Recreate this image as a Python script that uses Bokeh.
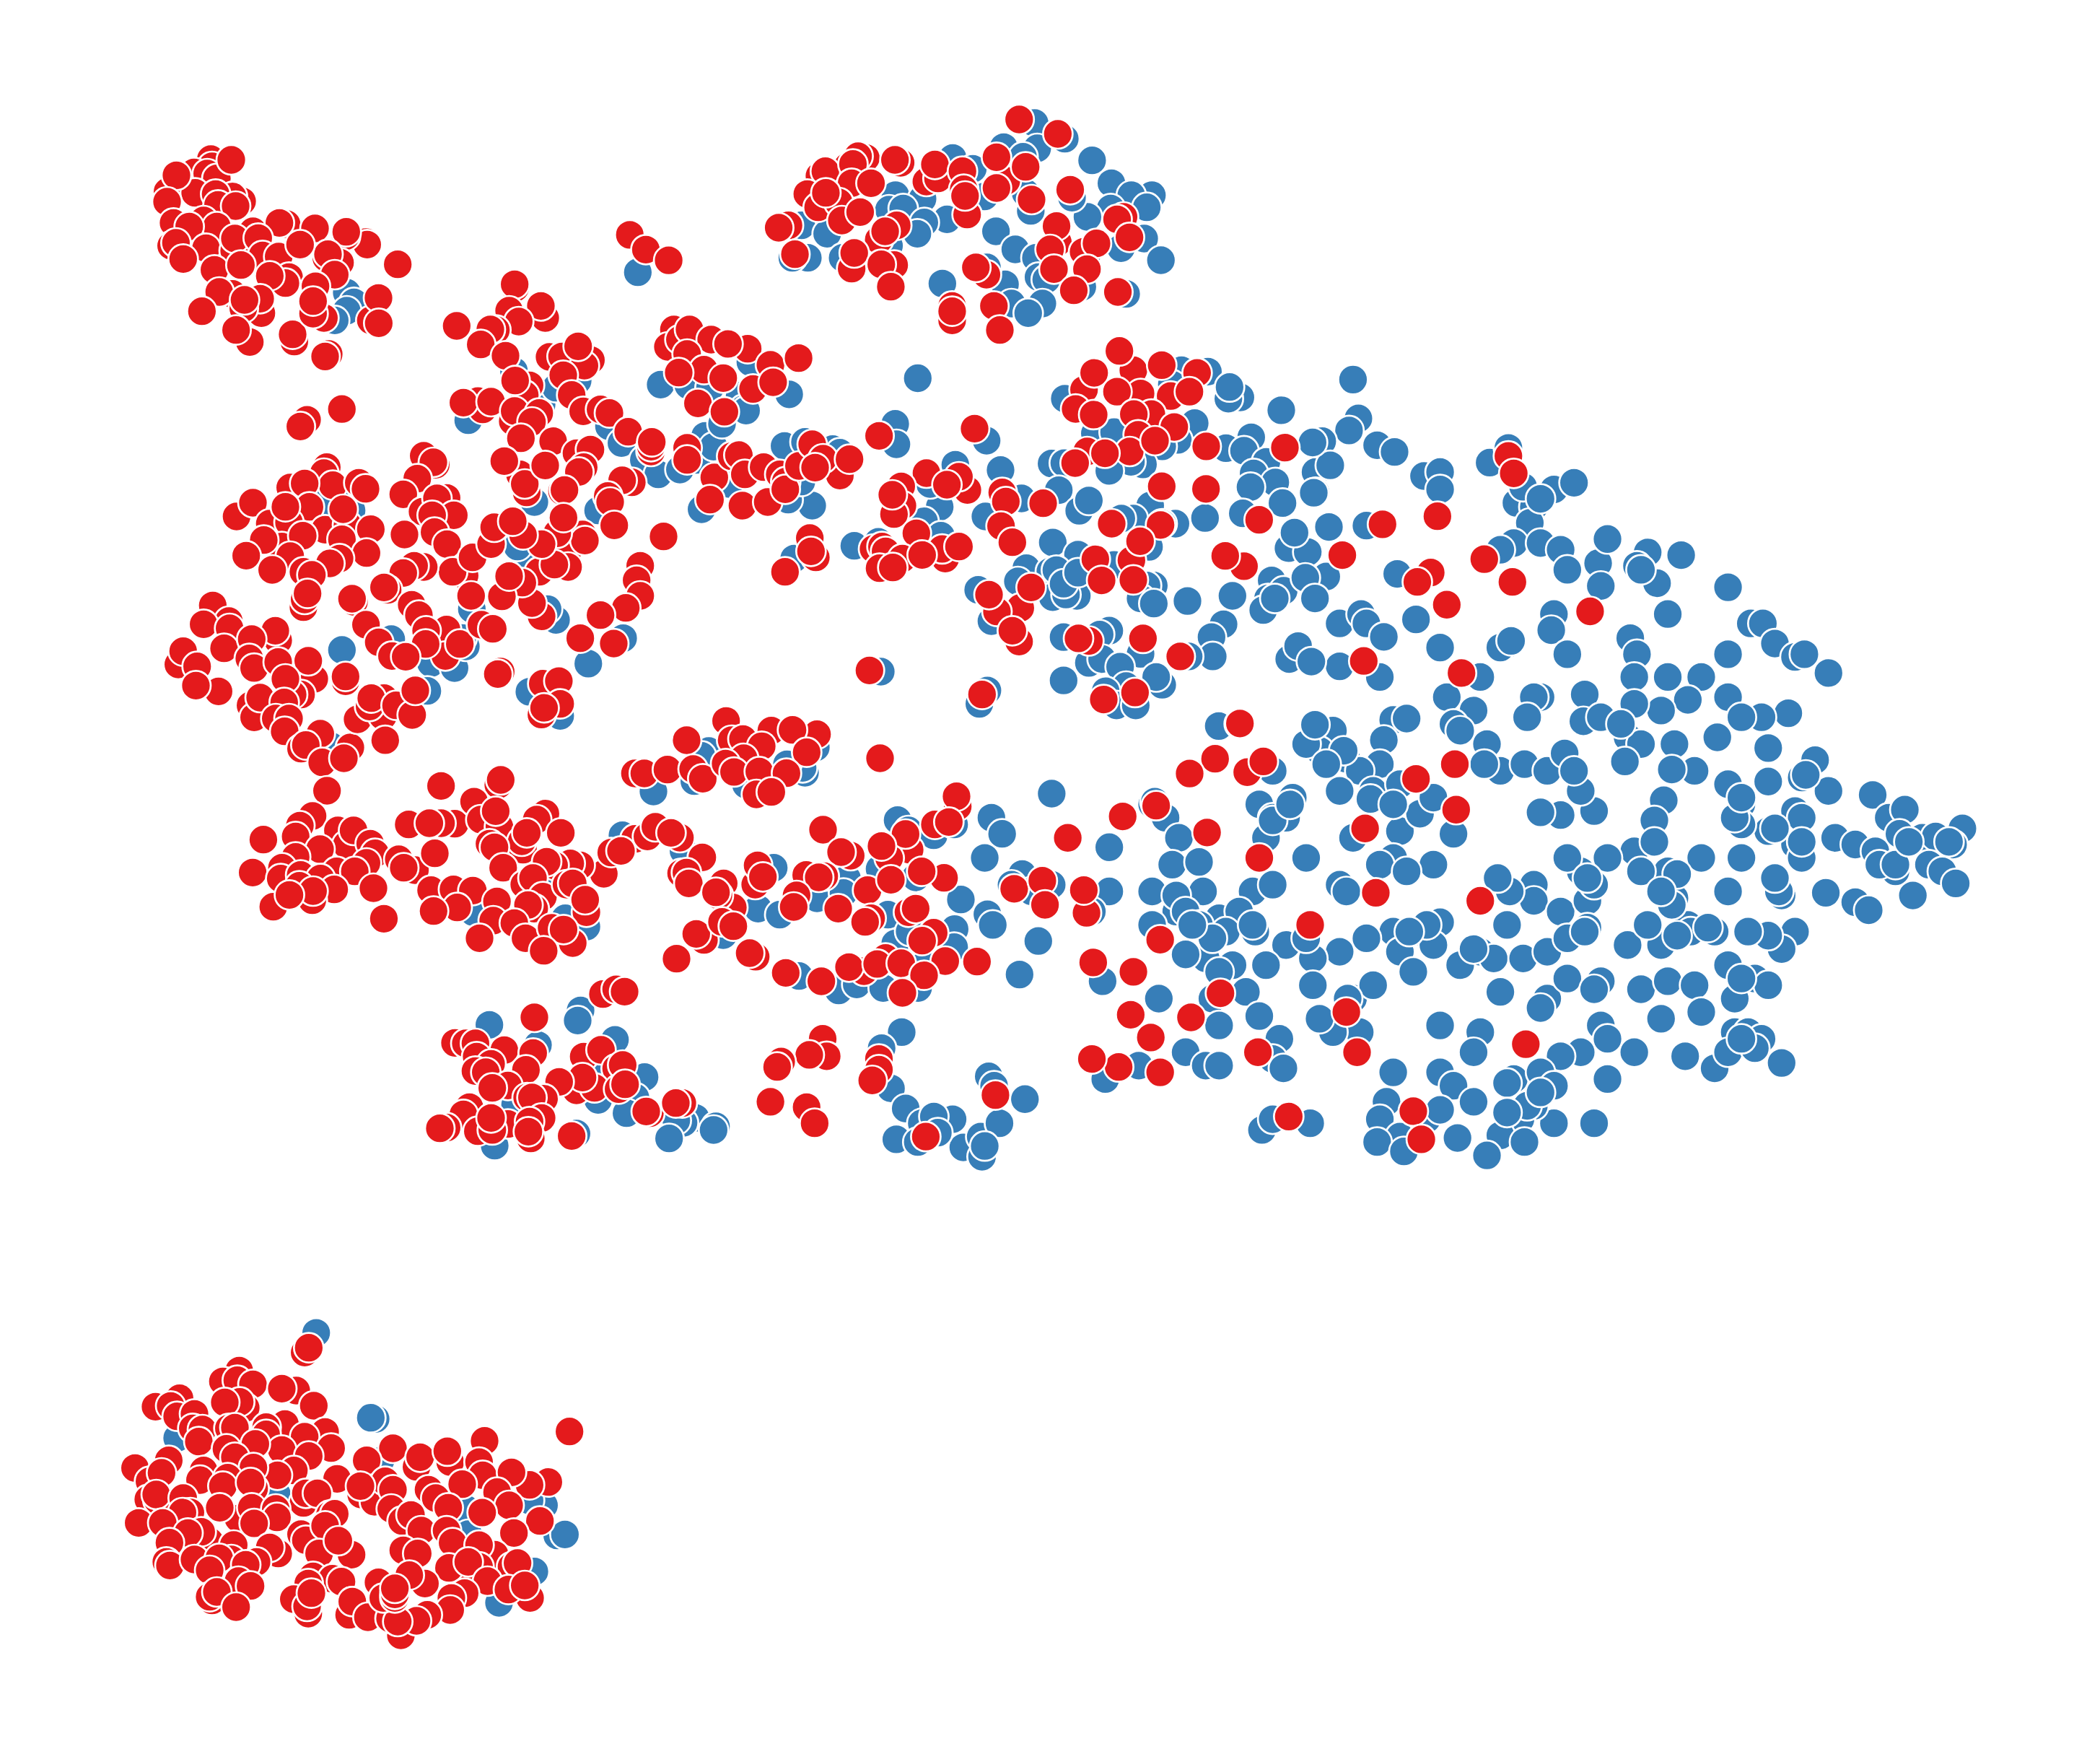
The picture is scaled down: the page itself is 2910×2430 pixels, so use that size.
from bokeh.plotting import figure
from bokeh.models import Range1d
from bokeh.embed import file_html
from bokeh.resources import INLINE

# Embedding coordinates. Plain lists are in units of the 1568 wide view;
# the *_c lists are read from close-ups, and carry the close-up's origin and magnification.
blue_top_left_c = ((200,150,3,3),[(840,765),(870,805),(840,840),(790,880)])
red_top_left_c = ((200,150,3,3),[(275,210),(280,240),(205,265),(260,270),(300,290),(95,345),(210,350),(405,385),(365,365),(295,355),(360,213),(132,277),(93,387),(305,400),(378,405),(120,475),(245,465),(300,490),(185,490),(450,510),(590,480),(560,475),(708,498),(920,555),(925,565),(835,530),(838,512),(1052,647),(110,570),(255,580),(372,590),(375,540),(472,538),(130,558),(490,610),(557,615),(812,640),(755,620),(762,605),(646,565),(160,625),(290,670),(400,650),(600,700),(585,725),(520,695),(790,690),(710,738),(365,770),(310,762),(485,850),(480,790),(410,830),(415,795),(238,842),(437,970),(380,920),(622,968),(615,938),(745,870),(695,845),(700,852),(700,800),(940,880),(972,787),(973,892),(765,1020),(750,1030)])
red_pair = [(470,175),(482,186),(499,194)]

blue_top_c = ((1060,140,2.8,3),[(1045,90),(1162,155),(925,190),(1055,195),(1000,230),(727,235),(805,280),(1268,245),(1343,340),(505,390),(610,405),(480,450),(535,445),(1500,390),(1420,390),(1480,440),(1340,445),(1250,480),(705,490),(617,503),(590,550),(830,400),(850,395),(1010,380),(1030,455),(1190,400),(140,515),(240,550),(165,650),(105,650),(300,650),(895,540),(970,615),(1470,570),(1380,610),(1050,650),(1535,660),(1060,730),(1090,740),(930,760),(687,757),(955,840),(1075,840),(1020,880),(1245,650),(1230,770),(1400,800),(860,690),(480,600)])
red_top_c = ((1060,140,2.8,3),[(985,75),(1135,135),(390,235),(320,270),(360,228),(525,255),(503,243),(210,310),(233,290),(340,260),(335,340),(410,340),(163,385),(205,440),(285,420),(235,380),(297,495),(368,460),(625,333),(670,320),(658,262),(765,290),(770,365),(783,470),(775,393),(935,330),(897,232),(1010,272),(897,360),(1033,408),(1183,367),(90,515),(52,525),(510,515),(440,575),(465,540),(1135,585),(1130,518),(1105,615),(1390,480),(1365,490),(1235,625),(1285,590),(1413,565),(1120,697),(1248,697),(115,635),(335,695),(345,630),(500,680),(450,677),(487,770),(858,720),(817,690),(1197,785),(1368,792),(887,850),(725,910),(725,850),(725,872),(910,950)])

blue_ridge_c = ((520,370,3,3),[(1090,20),(385,635),(575,430),(690,570),(660,975),(1185,487),(970,660),(1022,730),(1115,800),(1175,860),(1265,840),(1335,800),(1370,700),(1405,745),(1440,650),(1355,1005),(1470,900),(590,1165),(640,1230),(925,1010),(750,500),(840,470),(1300,490),(1390,500),(400,1430),(750,1465),(715,1420)])
red_ridge_c = ((520,370,3,3),[(580,85),(578,70),(705,210),(687,160),(555,180),(595,225),(337,243),(500,260),(477,258),(437,320),(540,367),(640,490),(620,530),(580,470),(425,555),(445,590),(365,562),(480,558),(570,640),(578,597),(680,605),(650,642),(604,710),(738,722),(723,372),(895,385),(775,370),(868,408),(842,328),(780,448),(815,530),(863,598),(935,590),(972,605),(1050,683),(1145,765),(1145,745),(1148,725),(835,772),(893,757),(865,830),(845,850),(600,860),(535,805),(628,935),(620,900),(705,823),(775,930),(785,925),(1065,893),(1025,885),(965,950),(975,975),(992,1072),(1197,1118),(800,1175),(860,1110),(870,1135),(755,1105),(781,1040),(800,1245),(680,1265),(743,1235),(690,1150),(613,1112),(1240,258),(1215,330),(1265,300),(1325,310),(1305,258),(1395,300),(1465,318),(1295,360),(1365,425),(1260,437),(1445,460),(1340,565),(1450,600),(1295,750),(1295,800),(1408,873),(1480,785),(1390,965),(1100,1240),(1085,1300),(1100,1365),(1040,1415),(935,1445),(690,1450),(650,1395),(610,1310)])
red_strip = [(558,260),(575,272),(596,267),(562,290),(577,285)]

blue_left_c = ((220,600,3,3),[(1490,470),(700,280),(780,290),(800,320),(1300,730),(760,900),(965,855),(1130,955),(1228,975),(1275,885),(1260,850),(1115,1070),(715,1300)])
red_left_c = ((220,600,3,3),[(697,140),(685,165),(722,215),(545,225),(605,208),(830,205),(858,230),(322,345),(390,288),(625,305),(460,375),(540,370),(525,305),(690,400),(783,380),(765,315),(880,398),(510,470),(760,440),(597,425),(435,443),(862,497),(362,508),(750,520),(545,510),(470,567),(710,540),(600,575),(635,588),(600,722),(605,690),(617,665),(1100,93),(1150,130),(1140,120),(1073,188),(1015,253),(1195,268),(1095,325),(1155,270),(1225,340),(1135,340),(1020,420),(1145,410),(1197,460),(1270,590),(1220,575),(1303,515),(1100,555),(1060,550),(1015,580),(1435,115),(1380,460),(1393,390),(1470,365),(1425,677),(1455,593),(1297,675),(950,650),(935,640),(1050,712),(810,700),(802,687),(1080,755),(860,795),(913,868),(1195,815),(1110,820),(1190,925),(1108,875),(1250,875),(968,925),(1025,928),(1340,795),(1387,812),(223,715),(290,780),(185,793),(293,810),(270,893),(495,860),(483,820),(385,855),(375,935),(395,975),(495,950),(645,1020),(620,945),(80,960),(100,905),(158,968),(247,1072),(153,1048),(590,1085),(555,1085),(525,1020),(775,1030),(775,1010),(380,1130),(395,1180),(420,1098),(520,1118),(485,1185),(540,1185),(522,1238),(670,1248),(590,1310),(610,1295),(795,1305),(678,1367),(768,1350),(935,1100),(825,1188),(930,1175),(875,1135),(882,1100),(985,1130),(1052,1170),(1065,1068),(940,1275),(1420,990),(1408,1000),(698,1485),(1172,1465),(1410,1460),(1420,1440)])
blue_scatter = [(552,295),(560,270),(589,294),(555,305),(439,495),(395,516),(418,534),(465,476),(685,282),(731,525),(737,515)]
red_scatter = [(229,313),(224,318),(255,305),(405,510),(417,508),(418,525),(404,533),(406,528),(433,476),(458,480),(733,518)]

blue_center_c = ((1020,560,3,3),[(40,25),(660,80),(665,165),(1040,150),(200,172),(285,155),(400,185),(430,200),(910,250),(1098,272),(1185,390),(845,425),(780,485),(850,545),(1035,465),(315,420),(215,395),(270,320),(490,587),(590,570),(240,640),(1005,770),(1205,680),(1170,735),(1310,710),(1315,800),(600,1110),(805,330),(1060,900),(1310,570),(1345,360),(1310,245)])
red_center_c = ((1020,560,3,3),[(10,210),(35,290),(113,260),(180,290),(25,420),(130,405),(205,320),(203,352),(260,255),(430,295),(315,165),(360,225),(327,262),(470,227),(593,130),(990,100),(790,285),(960,355),(925,300),(875,333),(685,340),(690,420),(655,455),(648,375),(1105,365),(1120,403),(1275,410),(1100,505),(1147,572),(748,535),(570,600),(605,590),(620,610),(690,640),(595,680),(650,677),(868,640),(855,600),(772,625),(925,590),(330,635),(305,555),(310,610),(202,695),(1180,845),(1083,860),(1050,790),(1225,760),(1175,985),(1147,940),(553,1105)])

blue_cap_c = ((1420,450,3,2.8),[(165,285),(290,420),(370,415),(650,175),(760,180),(895,280),(845,285),(850,240),(610,230),(705,380),(635,445),(570,470),(1065,330),(835,477),(940,435),(910,487),(1003,530),(950,575),(1040,610),(1070,690),(937,628),(905,730),(490,540),(440,530),(350,565),(163,535),(140,640),(225,720),(265,680),(520,700),(450,750),(400,750),(625,770),(570,770),(748,748),(115,843),(220,890),(105,955),(130,950),(215,1050),(115,1055),(170,1045),(160,1003),(370,930),(220,960),(515,860),(535,1010),(505,1010),(480,1060),(535,1080),(675,1070),(862,1050),(1025,990),(1075,1030),(1010,1060),(990,1105),(1038,1060),(1095,865),(1175,880),(1120,805),(1165,980),(1205,1060),(1195,455),(1200,650),(825,1160),(775,1210),(780,1285),(680,1285),(350,1185),(160,1210),(310,1200),(480,1275),(265,1310),(320,1295),(395,1325),(570,1395),(545,1365),(420,1400),(335,1420),(160,1378),(380,1475),(460,1475),(1098,1295),(1135,1245),(1190,1305),(805,1555),(1205,1550)])
red_cap_c = ((1420,450,3,2.8),[(450,175),(392,100),(568,155),(715,185),(245,250),(287,185),(480,265),(382,258),(605,275),(683,258),(210,325),(285,347),(525,345),(620,395),(452,345),(470,425),(435,490),(540,448),(258,490),(332,497),(208,535),(753,470),(1080,475),(568,625),(752,635),(360,770),(563,775),(973,755),(442,912),(478,838),(292,908),(910,935),(832,895),(450,988),(318,990),(265,1225),(222,1215),(490,1215),(645,1285),(327,1452),(457,1425),(893,1545)])

blue_upper_right = [(1010,283),(1014,312),(1007,321),(987,329),(1028,332),(1041,337),(1063,355),(1075,352),(1075,365),(1112,345),(1126,334),(982,352),(982,367),(993,347),(1020,392),(992,393),(990,430),(1000,465),(1016,458),(1020,465),(1033,475),(1057,462),(1043,428),(1000,497),(1030,505),(1075,483),(1126,480),(1120,483),(1160,458),(1158,470),(1170,488),(1132,375),(1145,378),(1160,365),(1175,360),(1142,390),(1130,405),(1120,410),(1150,405),(1165,410),(1170,425),(1193,420),(1200,402),(1195,437),(1230,412),(1255,414),(1222,422),(1237,435),(1245,458),(1290,438),(1217,476),(1222,488),(1220,505),(1245,505),(1270,505),(1290,488),(1307,465),(1316,465),(1325,480),(1340,490),(1347,488),(1365,502),(1260,522),(1290,520),(1240,530),(1335,532),(1315,535),(1300,535),(1220,525),(1183,518),(1150,520),(1128,478),(1105,505),(1080,520),(1100,530),(1145,520),(1140,535),(1085,540)]
blue_lower_right = [(909,542),(982,545),(995,545),(1040,537),(1050,536),(1033,552),(985,560),(975,555),(1005,566),(1030,570),(1015,575),(1025,590),(1000,590),(950,575),(940,600),(965,595),(960,610),(950,610),(945,625),(975,640),(1010,625),(1045,620),(1060,607),(1070,595),(1040,640),(1030,645),(1070,645),(1050,650),(1000,660),(1005,665),(1085,622),(1110,555),(1120,575),(1138,570),(1155,575),(1168,562),(1182,538),(1195,535),(1215,550),(1225,555),(1213,568),(1250,555),(1282,550),(1320,558),(1355,567),(1345,580),(1365,590),(1320,583),(1290,585),(1265,575),(1248,574),(1300,600),(1340,605),(1345,610),(1320,620),(1300,615),(1242,597),(1235,612),(1220,635),(1235,628),(1190,605),(1165,608),(1150,606),(1180,590),(1398,593),(1410,610),(1422,604),(1370,625),(1385,630),(1400,635),(1418,622),(1435,625),(1445,624),(1465,618),(1458,630),(1415,650),(1403,645),(1440,645),(1450,650),(1428,668),(1460,659),(1385,673),(1395,679),(1363,666),(1340,630),(1345,640),(1330,668),(1328,665),(1300,640),(1290,665),(1270,640),(1245,650),(1250,670),(1260,690),(1280,695),(1240,705),(1290,720),(1340,695),(1330,708),(1320,698),(1305,695),(1200,640),(1180,650),(1170,640),(1145,660),(1120,660),(1145,672),(1165,680),(1185,672),(1185,692),(1125,690),(1105,710),(1115,715),(1137,715),(1155,710),(1215,705),(1190,660),(1230,690),(1075,688),(1060,695),(1040,695),(1045,710),(1055,725),(1070,705),(1020,700),(1000,710),(980,715),(980,735),(1010,745),(1025,735),(1090,720),(1120,740),(1155,745),(1170,730),(1195,732),(1225,738),(1245,732),(1265,735),(1295,745),(1310,730),(1320,735),(1270,755),(1295,770),(1305,770),(1315,775),(1240,760),(1195,765),(1200,775),(1180,785),(1165,788),(1105,770),(1075,765),(1100,785),(1040,800),(1075,800),(1085,810),(1100,822),(1130,805),(1125,808),(1150,800),(1160,810),(1200,805),(1220,785),(1258,788),(1280,797),(1290,785),(1310,782),(1330,793),(1190,838),(1160,838),(1145,825),(1130,830),(1135,835),(1120,847),(1138,852),(1110,862),(1088,849),(1065,835),(1075,828),(1035,822),(1030,835),(1045,848),(1028,852),(1048,859),(942,843),(978,838),(950,835)]
blue_lower_mid = [(860,600),(870,610),(880,625),(875,645),(895,643),(860,665),(878,680),(898,665),(910,685),(935,665),(950,660),(925,680),(937,695),(960,705),(945,720),(920,720),(900,715),(885,712),(930,740),(865,745),(905,745),(940,758),(910,765),(885,785),(900,795),(910,795),(955,775),(950,790),(958,797),(850,795),(825,805),(823,732),(828,632),(828,665),(815,680),(785,592),(862,598),(878,668),(885,680),(895,690),(915,695),(910,725),(860,690),(1006,745),(1015,770),(995,770),(985,760),(975,700),(737,682),(741,690),(775,702),(761,727),(740,610),(748,622),(763,652),(755,660),(770,665),(785,660),(735,640)]
blue_c_shape = [(673,770),(658,782),(665,812),(676,827),(688,838),(711,835),(697,833),(669,850),(685,852),(719,856),(732,848),(733,863),(746,838),(738,803),(742,810),(765,820),(700,845),(735,855)]
blue_dense_extra = [(1003,560),(990,570),(1023,596),(1045,585),(1040,600),(1108,570),(1252,652),(1248,675),(1262,695),(1252,698),(1275,692),(1295,610),(1325,618),(1348,578),(1345,628),(1127,665),(1118,655),(1185,655),(1170,700),(1183,695),(1100,708),(950,612),(963,600),(1065,690),(1052,695),(1190,738),(1150,752),(1300,775),(1140,825),(1150,815),(1125,830),(905,700),(935,690),(890,690),(1415,645),(1425,628),(1455,628),(1137,363),(1150,372),(1225,425),(1090,545),(1175,575),(1210,540),(1300,595),(1225,650),(1240,665),(1325,655),(1300,730)]

red_sparse_upper = [(1002,414),(1032,391),(1073,385),(1126,340),(1130,353),(1108,417),(1129,434),(1068,427),(1058,434),(1080,451),(1187,456),(1018,493),(1091,502)]
red_sparse_lower = [(925,540),(907,566),(888,577),(931,576),(943,568),(1057,581),(1086,570),(1087,604),(1019,618),(940,640),(1027,666),(1105,672),(978,690),(911,741),(889,759),(866,701),(846,725),(844,757),(859,774),(835,796),(866,800),(815,790),(939,785),(1005,755),(1013,785),(1139,779),(1055,829),(1061,850),(962,833),(901,621),(863,601),(838,609),(797,625),(757,663),(778,657),(780,675),(811,681),(809,664),(816,718)]
red_bottom = [(614,775),(617,788),(604,787),(583,792),(580,796),(656,790),(656,798),(651,806),(575,822),(602,826),(608,838),(743,817),(691,848)]

blue_row_c = ((330,1060,2.904,3),[(945,610),(1315,635),(1400,670),(1255,490),(1545,290)])
red_row_c = ((330,1060,2.904,3),[(298,210),(247,250),(230,295),(100,308),(400,270),(435,330),(463,270),(328,348),(530,325),(550,365),(230,380),(515,405),(395,440),(57,445),(175,425),(170,470),(250,455),(330,470),(245,500),(468,440),(385,515),(543,510),(140,587),(297,560),(300,522),(205,538),(710,435),(645,390),(665,425),(585,637),(685,245),(870,242),(815,240),(768,240),(790,365),(948,150),(975,225),(1050,255),(1035,190),(1235,200),(1200,225),(1145,350),(1140,315),(1160,280),(1297,280),(1010,325),(1030,340),(1065,425),(1470,450),(1500,362),(1375,415),(1335,407),(1270,415),(1240,400),(1150,495),(1185,468),(775,518),(865,515),(943,520),(1225,545),(1190,595),(1165,580),(1040,565),(1320,495),(1345,490),(1400,610),(1395,558),(880,590),(785,605),(1025,645),(970,718),(1110,655),(1345,738),(1155,718),(1260,675),(1308,682),(1228,770)])

blue_mid_c = ((860,970,3,3),[(365,210),(335,230),(135,378),(305,335),(765,300),(755,280),(690,265),(810,195),(520,350),(1150,497),(1195,540),(1300,560),(1385,515),(260,625),(635,695),(940,740),(1075,700),(1225,735),(570,865),(660,890),(815,822),(925,800),(1110,890),(1413,827),(1387,950),(1140,1010),(1385,1025),(425,975),(740,1145),(905,1205),(980,1180),(1090,1195),(1235,1195),(1200,960),(1260,1100)])
red_mid_c = ((860,970,3,3),[(437,85),(273,165),(625,125),(815,140),(713,122),(460,165),(507,160),(585,190),(772,215),(1077,240),(58,303),(97,303),(193,287),(300,285),(340,325),(510,240),(435,262),(470,297),(575,295),(688,302),(563,390),(625,380),(1400,440),(1395,398),(1305,515),(1363,505),(840,537),(58,575),(110,565),(143,525),(245,570),(208,550),(1200,620),(1115,655),(1183,555),(1083,605),(955,645),(915,630),(0,625),(338,652),(558,765),(568,685),(590,733),(770,725),(845,730),(822,735),(250,718),(272,715),(282,760),(427,760),(465,860),(405,810),(395,797),(730,810),(718,858),(1343,737),(1025,788),(1122,745),(1250,710),(903,865),(1195,880),(1225,865),(1040,905),(1015,920),(345,995),(313,970),(420,920),(467,938),(1300,965),(1252,998),(560,1065),(535,1050),(231,1073),(685,1132),(833,1167),(1010,1125),(948,1108),(1100,1070),(1065,1095),(1165,1092),(1348,1083),(1480,1085),(1260,1142),(1170,1215)])

blue_lower_left_c = ((590,1360,3,3),[(263,178),(642,118),(630,160),(465,262),(785,240),(720,375),(908,395),(715,490),(870,480),(833,545),(370,510),(1120,565),(1070,585),(1040,575),(1010,650),(1205,600),(1195,615),(625,630),(285,680)])
red_lower_left_c = ((590,1360,3,3),[(735,50),(790,30),(825,40),(450,147),(120,253),(165,255),(205,255),(325,283),(445,295),(210,310),(270,340),(205,370),(415,365),(248,375),(340,430),(275,440),(655,310),(727,282),(790,360),(817,345),(625,450),(700,440),(650,397),(553,415),(800,445),(827,425),(490,485),(420,480),(440,480),(180,520),(155,550),(340,590),(480,565),(430,580),(215,620),(275,615),(270,565),(85,605),(57,608),(435,650),(425,622),(605,640),(930,545),(915,538),(1065,503),(1038,503)])

blue_island_c = ((150,1820,3,3),[(863,78),(1110,436),(1090,431),(285,515),(700,750)])
red_island_c = ((150,1820,3,3),[(815,160),(832,140),(543,235),(475,280),(535,275),(600,292),(780,318),(720,310),(853,381),(295,350),(195,385),(258,382),(285,425),(357,415),(570,390),(545,365),(483,367),(350,475),(390,480),(375,530),(900,490),(733,457),(655,470),(815,510),(925,557),(655,500),(500,475),(525,472),(490,560),(720,565),(610,540),(525,595),(832,590),(250,608),(110,640),(170,695),(220,660),(395,650),(380,690),(770,650),(702,670),(602,638),(950,685),(495,680),(475,715),(605,725),(590,700),(810,785),(820,745),(868,745),(165,770),(205,775),(198,750),(310,765),(340,825),(307,825),(540,850),(462,805),(595,805),(695,810),(700,845),(605,870),(920,835),(940,830),(125,868),(225,868),(420,945),(385,905),(330,910),(253,950),(520,960),(705,995),(670,970),(800,915),(820,940),(900,880),(875,995),(1010,1000),(955,942),(240,1030),(255,1045),(357,1020),(510,1020),(460,1015),(420,1065),(615,1030),(570,1042),(540,1110),(590,1130),(850,1090),(930,1100),(968,1112),(830,1120),(770,1185),(830,1245),(825,1215),(843,1160),(1013,1195),(430,1190),(420,1175),(450,1155),(530,1218)])
blue_island2_c = ((400,1950,3,3),[(735,420),(1060,405),(1000,385),(1115,530),(1147,526),(1020,680),(873,810),(380,220),(745,525)])
red_island2_c = ((400,1950,3,3),[(1166,98),(813,137),(432,168),(323,218),(530,245),(545,205),(670,225),(658,180),(790,225),(805,280),(1078,308),(1000,320),(925,268),(300,360),(355,390),(400,305),(297,325),(432,340),(865,350),(720,317),(915,405),(803,435),(1043,470),(935,520),(580,340),(610,375),(662,415),(425,420),(470,470),(507,445),(550,510),(655,510),(680,560),(855,610),(790,570),(475,592),(535,605),(925,660),(950,645),(790,660),(740,690),(665,665),(745,640),(565,730),(500,695),(372,725),(825,720),(730,770),(675,790),(670,840),(1002,790),(912,755),(980,738),(250,860),(263,805),(328,870),(465,945),(575,860),(530,885),(420,875),(452,888),(392,790),(440,790),(440,775),(440,750)])

blue_plain = [blue_scatter, blue_upper_right, blue_lower_right, blue_lower_mid, blue_c_shape, blue_dense_extra]
blue_close = [blue_top_left_c, blue_top_c, blue_ridge_c, blue_left_c, blue_center_c, blue_cap_c, blue_row_c, blue_mid_c,
              blue_lower_left_c, blue_island_c, blue_island2_c]
red_plain = [red_pair, red_strip, red_scatter, red_sparse_upper, red_sparse_lower, red_bottom]
red_close = [red_top_left_c, red_top_c, red_ridge_c, red_left_c, red_center_c, red_cap_c, red_row_c, red_mid_c,
             red_lower_left_c, red_island_c, red_island2_c]

W, H = 2910, 2430
sx, sy = 1568 / W, 1309 / H


def collect(plain, close):
    xs, ys = [], []
    for g in plain:
        xs += [q[0] for q in g]
        ys += [q[1] for q in g]
    for (x0, y0, mx, my), g in close:
        xs += [(x0 + q[0] / mx) * sx for q in g]
        ys += [(y0 + q[1] / my) * sy for q in g]
    return xs, ys


p = figure(width=W - 16, height=H - 16, output_backend="svg", toolbar_location=None,
           x_range=Range1d(0, (W - 16) * sx), y_range=Range1d((H - 16) * sy, 0),
           min_border=0, outline_line_color=None, background_fill_color="white",
           border_fill_color="white")
p.axis.visible = False
p.grid.visible = False

for plain, close, colour in ((blue_plain, blue_close, "#377EB8"), (red_plain, red_close, "#E41A1C")):
    xs, ys = collect(plain, close)
    p.scatter(xs, ys, marker="circle", size=41, fill_color=colour, line_color="white", line_width=2.7)

open("out.html", "w").write(file_html(p, INLINE))
